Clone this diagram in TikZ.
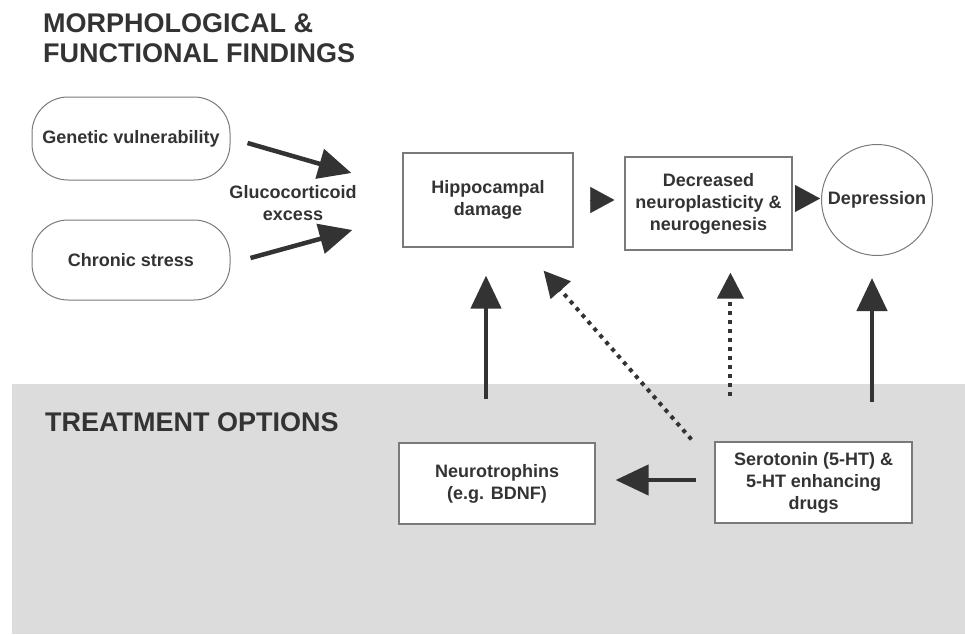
\documentclass[tikz,border=0pt]{standalone}
\usepackage{fontspec}
\setmainfont{Liberation Sans}
\usetikzlibrary{arrows.meta,calc}
\definecolor{ink}{HTML}{333333}
\definecolor{edge}{HTML}{7A7A7A}
\definecolor{panel}{HTML}{DCDCDC}
\tikzset{
  lbl/.style={font=\bfseries\fontsize{18}{22}\selectfont, text=ink, align=center},
  ttl/.style={font=\bfseries\fontsize{27}{30}\selectfont, text=ink, inner sep=0pt},
  boxnode/.style={lbl, draw=edge, line width=1.2pt, fill=white, inner sep=0pt},
  pill/.style={lbl, draw=edge, line width=1pt, fill=white, rounded corners=36pt, inner sep=0pt},
  bigarrow/.style={draw=ink, line width=4.5pt, -{Triangle[length=33pt,width=30pt]}},
  dotarrow/.style={draw=ink, line width=4pt, dash pattern=on 4pt off 5pt, -{Triangle[length=26pt,width=26pt]}},
  headonly/.style={draw=ink, line width=0.1pt, -{Triangle[length=24pt,width=26pt]}}
}
\begin{document}
\begin{tikzpicture}[x=1pt,y=-1pt]
\useasboundingbox (0,0) rectangle (965,634);
\fill[panel] (12,384) rectangle (965,634);

\node[ttl, anchor=base west] (t1) at (43,33) {MORPHOLOGICAL \&};
\node[ttl, anchor=base west] (t2) at (43,63) {FUNCTIONAL FINDINGS};
\node[ttl, anchor=base west] (t3) at (45,431) {TREATMENT OPTIONS};

\node[pill, minimum width=198pt, minimum height=83pt] (gen) at (131,138.5) {Genetic vulnerability};
\node[pill, minimum width=198pt, minimum height=80pt] (chr) at (131,260) {Chronic stress};
\node[lbl] (glu) at (293,203) {Glucocorticoid\\excess};

\node[boxnode, minimum width=170pt, minimum height=94pt] (hip) at (488,200) {Hippocampal\\damage};
\node[boxnode, minimum width=167pt, minimum height=93pt] (dec) at (708.5,203.5) {Decreased\\neuroplasticity \&\\neurogenesis};
\node[lbl, draw=edge, line width=1pt, fill=white, circle, minimum size=111pt, inner sep=0pt] (dep) at (877,200) {Depression};

\node[boxnode, minimum width=196pt, minimum height=81pt] (neu) at (497,483.5) {Neurotrophins\\(e.g. BDNF)};
\node[boxnode, minimum width=197pt, minimum height=81pt] (ser) at (813.5,482.5) {Serotonin (5-HT) \&\\5-HT enhancing\\drugs};

% glucocorticoid arrows
\draw[bigarrow] ([shift={(17,4.5)}]gen.east) -- ([shift={(-51,-27)}]hip.west);
\draw[bigarrow] ([shift={(20,-2)}]chr.east) -- ([shift={(-50,30)}]hip.west);

% arrowheads between the top row
\draw[headonly, shorten <=18pt, shorten >=10pt] (hip.east) -- (hip.east -| dec.west);
\draw[headonly, -{Triangle[length=25pt,width=27pt]}, shorten <=3pt, shorten >=1pt] ([yshift=5]dec.east) -- ([yshift=5]dec.east -| dep.west);

% treatment arrows
\draw[bigarrow, shorten <=43pt, shorten >=28pt] ([xshift=-11]neu.north) -- ([xshift=-11]neu.north |- hip.south);
\draw[dotarrow, shorten <=45pt, shorten >=22pt] ([xshift=16]ser.north west) -- ([xshift=16]ser.north west |- dec.south);
\draw[bigarrow, shorten <=39pt, shorten >=22pt] ([xshift=58.5]ser.north) -- ([xshift=58.5]ser.north |- dep.south);
\draw[dotarrow] ([shift={(-23,-2)}]ser.north west) -- ([shift={(-30,23)}]hip.south east);
\draw[bigarrow, shorten <=18pt, shorten >=20pt] ([yshift=2.5]ser.west) -- ([yshift=2.5]ser.west -| neu.east);
\end{tikzpicture}
\end{document}
